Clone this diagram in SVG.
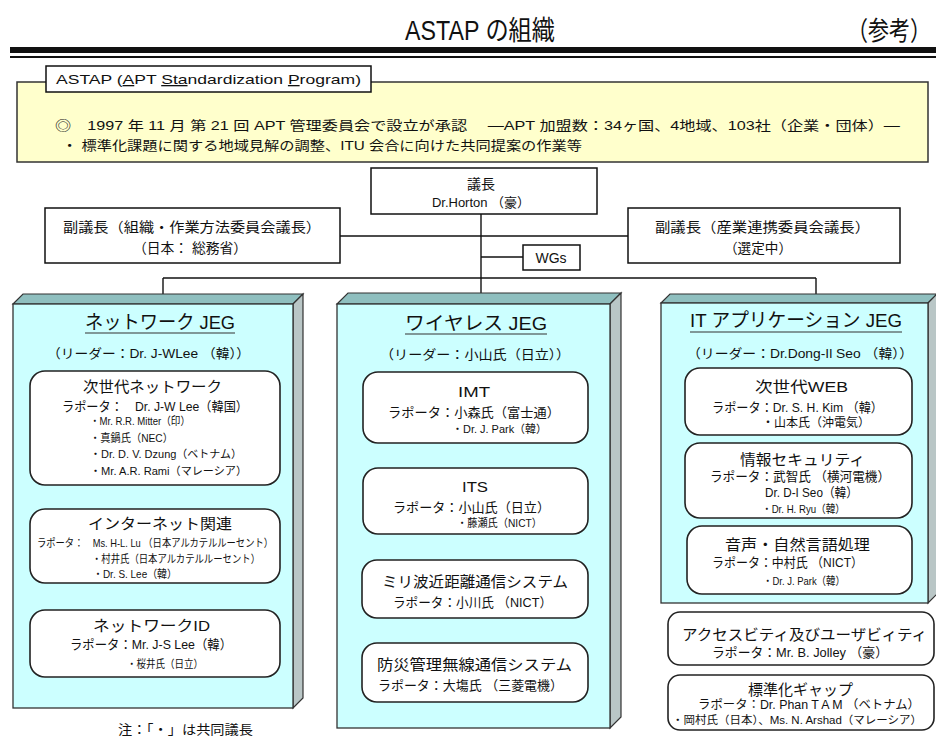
<svg xmlns="http://www.w3.org/2000/svg" width="936" height="738" viewBox="0 0 936 738">
<style>
text{font-family:"Liberation Sans","Noto Sans CJK JP",sans-serif;fill:#111}
.box{fill:#fff;stroke:#111;stroke-width:1.5}
.rb{fill:#fff;stroke:#222;stroke-width:1.6}
.front{fill:#CCFFFF;stroke:#333;stroke-width:1.3}
.topf{fill:#8FBFBF;stroke:#333;stroke-width:1.2}
.side{fill:#B9C6C6;stroke:#333;stroke-width:1.2}
.ln{stroke:#111;stroke-width:1.4;fill:none}
.ul{stroke:#333;stroke-width:1.2}
</style>
<rect width="936" height="738" fill="#fff"/>
<g id="title">
<text x="405" y="40" font-size="27" textLength="150" lengthAdjust="spacingAndGlyphs">ASTAP の組織</text>
<text transform="translate(847,40) scale(1,1.25)" x="0" y="0" font-size="21">（参考）</text>
<rect x="10" y="47" width="926" height="6" fill="#111"/>
<rect x="10" y="56" width="926" height="2" fill="#111"/>
</g>
<g id="astap">
<rect x="17" y="82" width="911" height="80" fill="#FFFFCC" stroke="#333" stroke-width="1.5"/>
<rect x="46" y="66" width="325" height="26" class="box"/>
<text x="56" y="84" font-size="13" textLength="305" lengthAdjust="spacingAndGlyphs">ASTAP (<tspan text-decoration="underline">A</tspan>PT <tspan text-decoration="underline">Sta</tspan>ndardization <tspan text-decoration="underline">P</tspan>rogram)</text>
<text x="55" y="130" font-size="13" textLength="845" lengthAdjust="spacingAndGlyphs">◎　1997 年 11 月 第 21 回 APT 管理委員会で設立が承認　 ―APT 加盟数：34ヶ国、4地域、103社（企業・団体）―</text>
<text x="62" y="150" font-size="13" textLength="520" lengthAdjust="spacingAndGlyphs">・ 標準化課題に関する地域見解の調整、ITU 会合に向けた共同提案の作業等</text>
</g>
<g id="connectors">
<line class="ln" x1="481" y1="214" x2="481" y2="294"/>
<line class="ln" x1="340" y1="236" x2="628" y2="236"/>
<line class="ln" x1="481" y1="257" x2="523" y2="257"/>
<line class="ln" x1="163" y1="278" x2="816" y2="278"/>
<line class="ln" x1="163" y1="278" x2="163" y2="294"/>
<line class="ln" x1="816" y1="278" x2="816" y2="294"/>
</g>
<g id="chair">
<rect x="371" y="168" width="226" height="46" class="box"/>
<text x="481" y="189" font-size="14" text-anchor="middle">議長</text>
<text x="481" y="207" font-size="13" text-anchor="middle">Dr.Horton （豪）</text>
</g>
<g id="vice1">
<rect x="45" y="208" width="295" height="55" class="box"/>
<text x="63" y="232" font-size="14" textLength="258" lengthAdjust="spacingAndGlyphs">副議長（組織・作業方法委員会議長）</text>
<text x="133" y="253" font-size="14" textLength="114" lengthAdjust="spacingAndGlyphs">（日本： 総務省）</text>
</g>
<g id="vice2">
<rect x="628" y="208" width="272" height="55" class="box"/>
<text x="655" y="232" font-size="14" textLength="215" lengthAdjust="spacingAndGlyphs">副議長（産業連携委員会議長）</text>
<text x="724" y="253" font-size="14" textLength="68" lengthAdjust="spacingAndGlyphs">（選定中）</text>
</g>
<g id="wgs">
<rect x="523" y="245" width="57" height="25" class="box"/>
<text x="551" y="263" font-size="14" text-anchor="middle">WGs</text>
</g>
<g id="jeg-network">
<polygon class="topf" points="13,304 23,294 303,294 293,304"/>
<polygon class="side" points="293,304 303,294 303,698 293,708"/>
<rect class="front" x="13" y="304" width="280" height="404"/>
<text x="85" y="329" font-size="19" textLength="150" lengthAdjust="spacingAndGlyphs">ネットワーク JEG</text>
<line class="ul" x1="85" y1="333" x2="235" y2="333"/>
<text x="47" y="358" font-size="13" textLength="203" lengthAdjust="spacingAndGlyphs">（リーダー：Dr. J-WLee （韓））</text>
<g id="sg-ngn">
<rect class="rb" x="30" y="371" width="250" height="114" rx="15"/>
<text x="83" y="392" font-size="15" textLength="139" lengthAdjust="spacingAndGlyphs">次世代ネットワーク</text>
<text x="62" y="411" font-size="13" textLength="186" lengthAdjust="spacingAndGlyphs">ラポータ：　Dr. J-W Lee（韓国）</text>
<text x="90" y="425" font-size="11" textLength="100" lengthAdjust="spacingAndGlyphs">・Mr. R.R. Mitter（印）</text>
<text x="90" y="442" font-size="11" textLength="83" lengthAdjust="spacingAndGlyphs">・真鍋氏（NEC）</text>
<text x="90" y="458" font-size="11" textLength="152" lengthAdjust="spacingAndGlyphs">・Dr. D. V. Dzung（ベトナム）</text>
<text x="90" y="475" font-size="11" textLength="157" lengthAdjust="spacingAndGlyphs">・Mr. A.R. Rami（マレーシア）</text>
</g>
<g id="sg-internet">
<rect class="rb" x="30" y="509" width="250" height="74" rx="15"/>
<text x="88" y="529" font-size="15" textLength="144" lengthAdjust="spacingAndGlyphs">インターネット関連</text>
<text x="37" y="547" font-size="11" textLength="236" lengthAdjust="spacingAndGlyphs">ラポータ：　Ms. H-L. Lu （日本アルカテルルーセント）</text>
<text x="92" y="563" font-size="11" textLength="168" lengthAdjust="spacingAndGlyphs">・村井氏（日本アルカテルルーセント）</text>
<text x="93" y="578" font-size="11" textLength="84" lengthAdjust="spacingAndGlyphs">・Dr. S. Lee（韓）</text>
</g>
<g id="sg-nid">
<rect class="rb" x="30" y="610" width="250" height="67" rx="15"/>
<text x="93" y="631" font-size="15" textLength="117" lengthAdjust="spacingAndGlyphs">ネットワークID</text>
<text x="70" y="649" font-size="13" textLength="162" lengthAdjust="spacingAndGlyphs">ラポータ：Mr. J-S Lee（韓）</text>
<text x="127" y="668" font-size="11" textLength="76" lengthAdjust="spacingAndGlyphs">・桜井氏（日立）</text>
</g>
</g>
<g id="jeg-wireless">
<polygon class="topf" points="337,304 348,293 621,293 610,304"/>
<polygon class="side" points="610,304 621,293 621,717 610,728"/>
<rect class="front" x="337" y="304" width="273" height="424"/>
<text x="405" y="330" font-size="19" textLength="142" lengthAdjust="spacingAndGlyphs">ワイヤレス JEG</text>
<line class="ul" x1="405" y1="334" x2="547" y2="334"/>
<text x="380" y="359" font-size="13" textLength="190" lengthAdjust="spacingAndGlyphs">（リーダー：小山氏（日立））</text>
<g id="sg-imt">
<rect class="rb" x="363" y="372" width="225" height="71" rx="15"/>
<text x="458" y="397" font-size="14" textLength="32" lengthAdjust="spacingAndGlyphs">IMT</text>
<text x="388" y="417" font-size="13" textLength="172" lengthAdjust="spacingAndGlyphs">ラポータ：小森氏（富士通）</text>
<text x="452" y="433" font-size="11" textLength="95" lengthAdjust="spacingAndGlyphs">・Dr. J. Park（韓）</text>
</g>
<g id="sg-its">
<rect class="rb" x="363" y="468" width="225" height="66" rx="15"/>
<text x="462" y="492" font-size="14" textLength="26" lengthAdjust="spacingAndGlyphs">ITS</text>
<text x="393" y="512" font-size="13" textLength="157" lengthAdjust="spacingAndGlyphs">ラポータ：小山氏（日立）</text>
<text x="457" y="527" font-size="11" textLength="85" lengthAdjust="spacingAndGlyphs">・藤瀬氏（NICT）</text>
</g>
<g id="sg-mmw">
<rect class="rb" x="362" y="560" width="226" height="58" rx="15"/>
<text x="382" y="587" font-size="15" textLength="186" lengthAdjust="spacingAndGlyphs">ミリ波近距離通信システム</text>
<text x="393" y="607" font-size="13" textLength="159" lengthAdjust="spacingAndGlyphs">ラポータ：小川氏 （NICT）</text>
</g>
<g id="sg-ppdr">
<rect class="rb" x="362" y="643" width="226" height="59" rx="15"/>
<text x="377" y="670" font-size="15" textLength="195" lengthAdjust="spacingAndGlyphs">防災管理無線通信システム</text>
<text x="378" y="690" font-size="13" textLength="185" lengthAdjust="spacingAndGlyphs">ラポータ：大塲氏 （三菱電機）</text>
</g>
</g>
<g id="jeg-it">
<polygon class="topf" points="661,303 670,294 937,294 928,303"/>
<polygon class="side" points="928,303 937,294 937,594 928,603"/>
<rect class="front" x="661" y="303" width="267" height="300"/>
<text x="690" y="327" font-size="19" textLength="212" lengthAdjust="spacingAndGlyphs">IT アプリケーション JEG</text>
<line class="ul" x1="690" y1="332" x2="902" y2="332"/>
<text x="687" y="358" font-size="13" textLength="226" lengthAdjust="spacingAndGlyphs">（リーダー：Dr.Dong-Il Seo （韓））</text>
<g id="sg-web">
<rect class="rb" x="685" y="368" width="227" height="67" rx="15"/>
<text x="755" y="392" font-size="15" textLength="93" lengthAdjust="spacingAndGlyphs">次世代WEB</text>
<text x="712" y="412" font-size="13" textLength="171" lengthAdjust="spacingAndGlyphs">ラポータ：Dr. S. H. Kim （韓）</text>
<text x="762" y="427" font-size="12" textLength="108" lengthAdjust="spacingAndGlyphs">・山本氏（沖電気）</text>
</g>
<g id="sg-sec">
<rect class="rb" x="685" y="443" width="227" height="75" rx="15"/>
<text x="740" y="465" font-size="15" textLength="125" lengthAdjust="spacingAndGlyphs">情報セキュリティ</text>
<text x="710" y="481" font-size="13" textLength="180" lengthAdjust="spacingAndGlyphs">ラポータ：武智氏 （横河電機）</text>
<text x="765" y="497" font-size="13" textLength="93" lengthAdjust="spacingAndGlyphs">Dr. D-I Seo（韓）</text>
<text x="762" y="513" font-size="11" textLength="83" lengthAdjust="spacingAndGlyphs">・Dr. H. Ryu（韓）</text>
</g>
<g id="sg-speech">
<rect class="rb" x="687" y="526" width="225" height="68" rx="15"/>
<text x="725" y="550" font-size="15" textLength="145" lengthAdjust="spacingAndGlyphs">音声・自然言語処理</text>
<text x="712" y="567" font-size="13" textLength="151" lengthAdjust="spacingAndGlyphs">ラポータ：中村氏 （NICT）</text>
<text x="763" y="585" font-size="11" textLength="82" lengthAdjust="spacingAndGlyphs">・Dr. J. Park（韓）</text>
</g>
</g>
<g id="sg-access">
<rect class="rb" x="668" y="612" width="266" height="53" rx="12"/>
<text x="682" y="640" font-size="15" textLength="245" lengthAdjust="spacingAndGlyphs">アクセスビティ及びユーザビィティ</text>
<text x="712" y="657" font-size="13" textLength="176" lengthAdjust="spacingAndGlyphs">ラポータ：Mr. B. Jolley （豪）</text>
</g>
<g id="sg-gap">
<rect class="rb" x="668" y="675" width="266" height="55" rx="12"/>
<text x="748" y="695" font-size="15" textLength="105" lengthAdjust="spacingAndGlyphs">標準化ギャップ</text>
<text x="698" y="709" font-size="12" textLength="222" lengthAdjust="spacingAndGlyphs">ラポータ：Dr. Phan T A M （ベトナム）</text>
<text x="672" y="724" font-size="11" textLength="250" lengthAdjust="spacingAndGlyphs">・岡村氏（日本）、Ms. N. Arshad（マレーシア）</text>
</g>
<g id="note">
<text x="118" y="734" font-size="13" textLength="135" lengthAdjust="spacingAndGlyphs">注：「・」は共同議長</text>
</g>
</svg>
